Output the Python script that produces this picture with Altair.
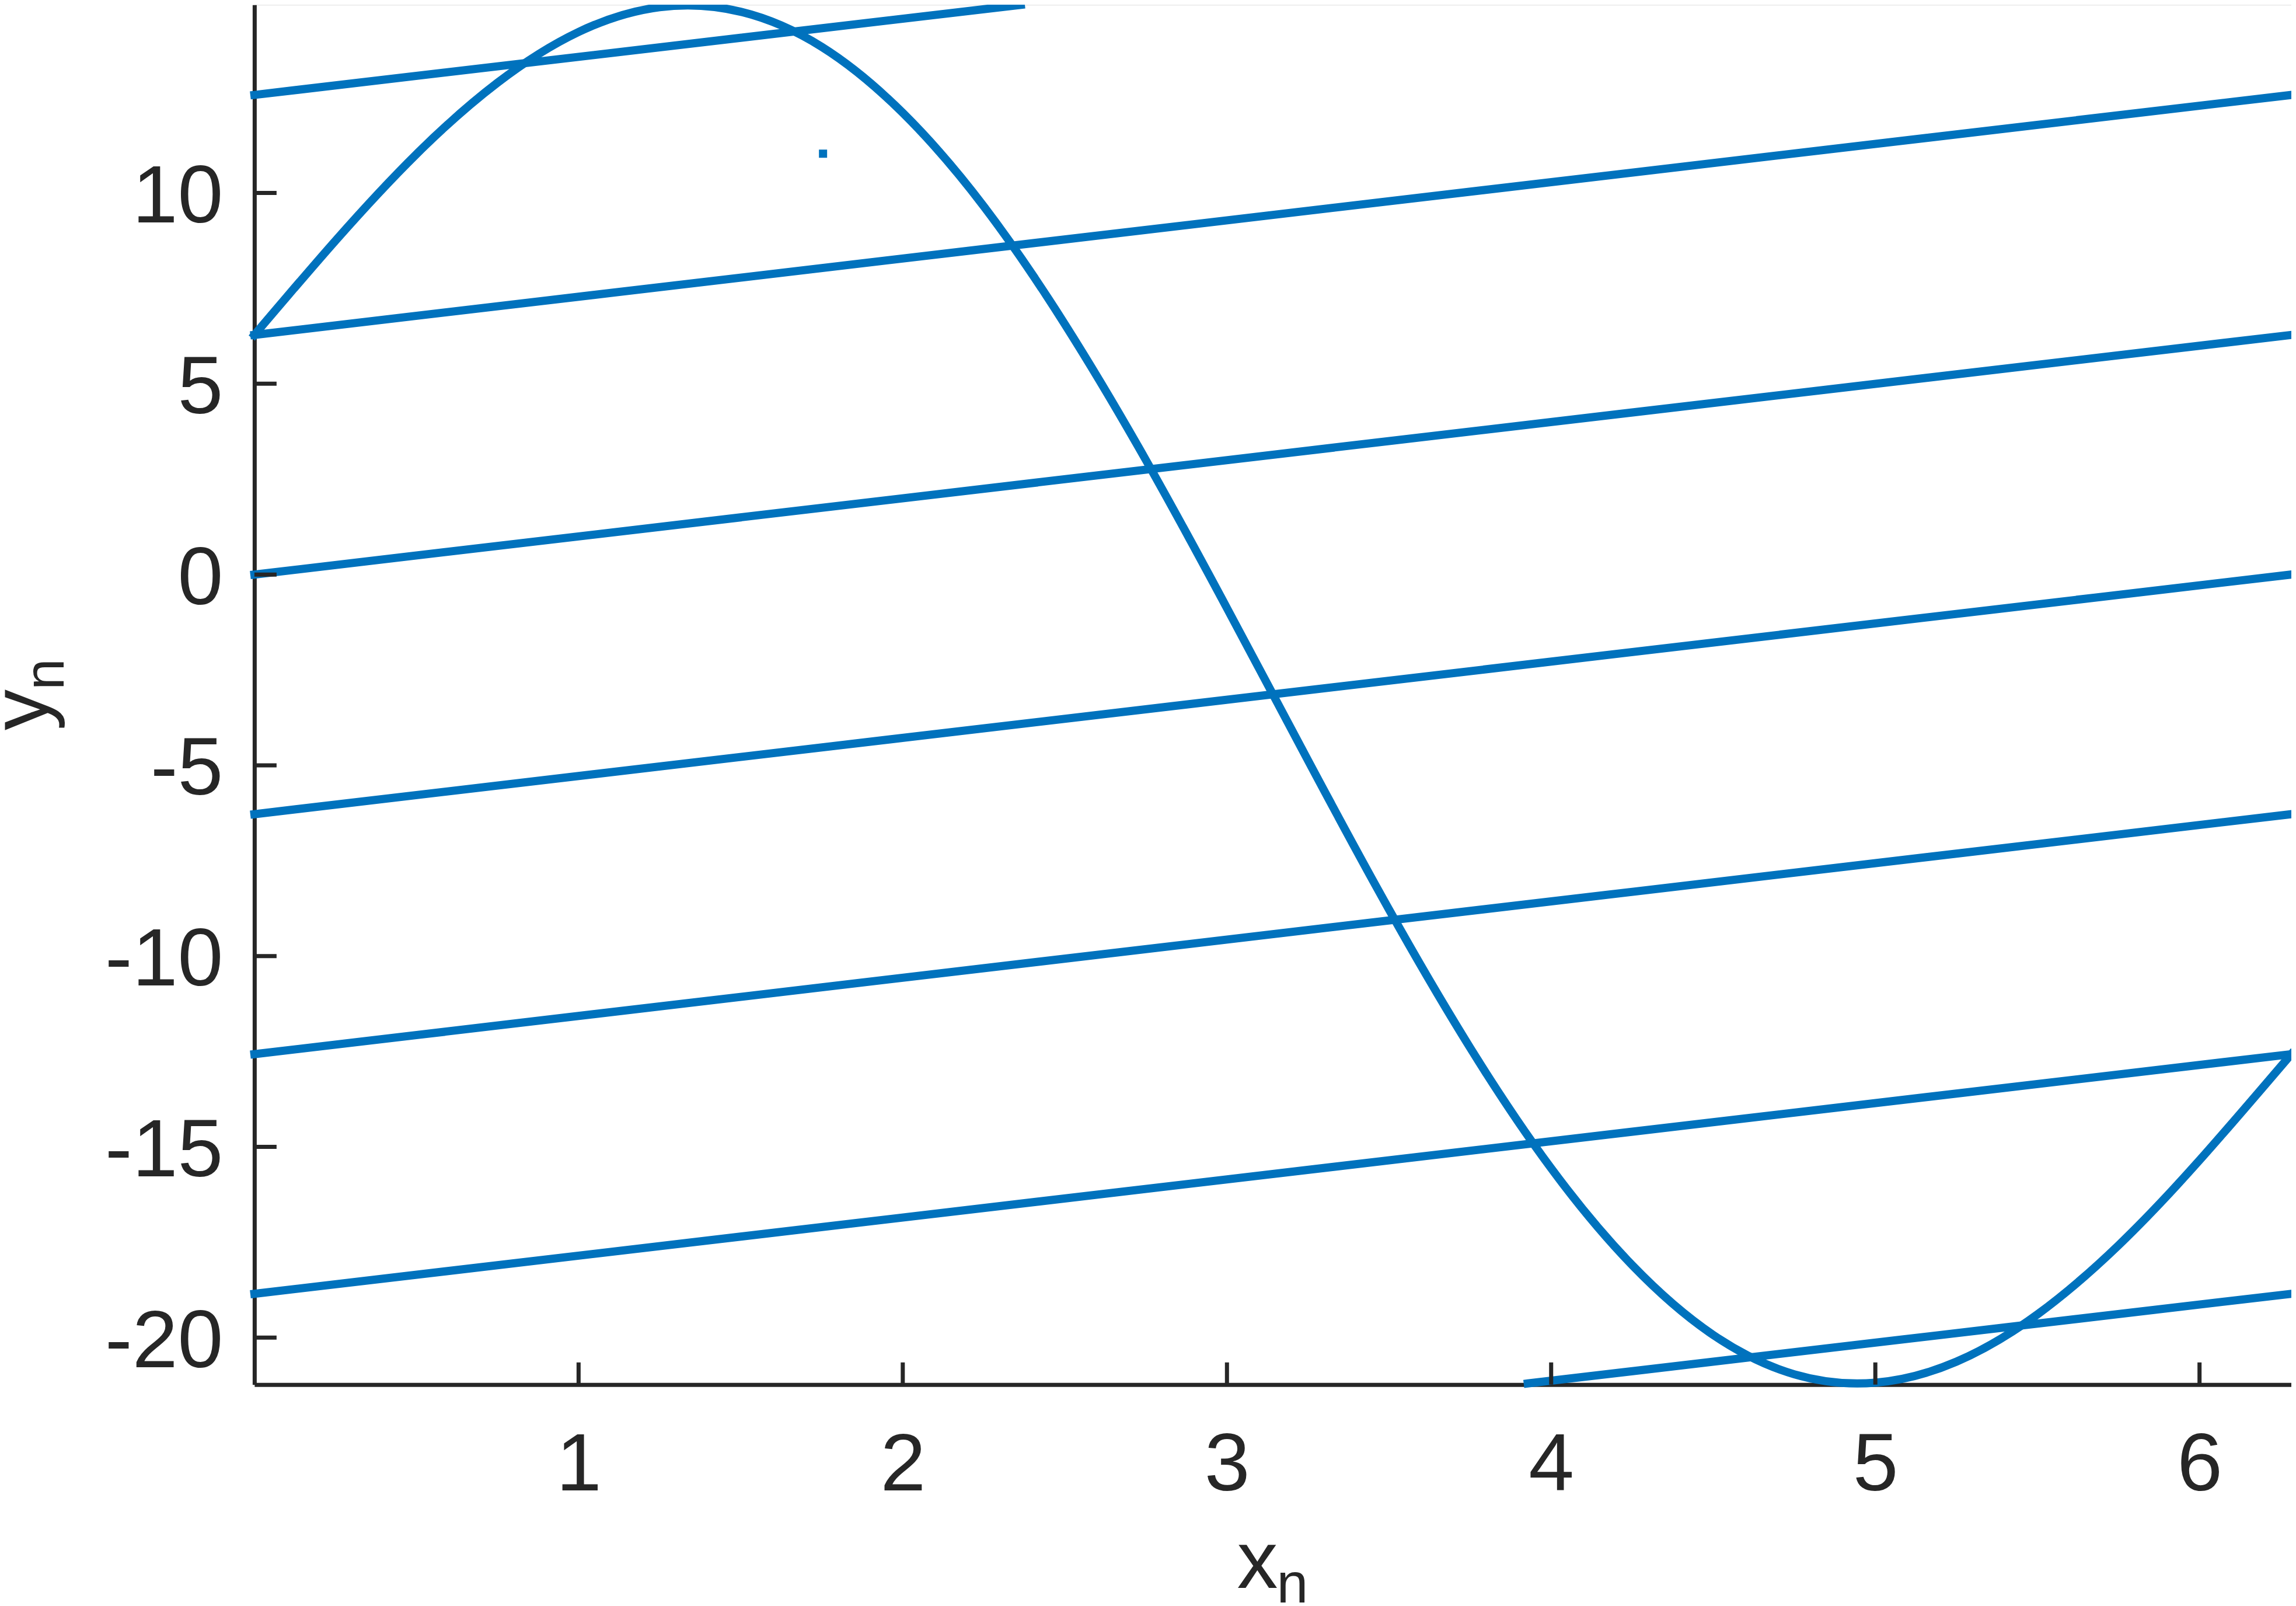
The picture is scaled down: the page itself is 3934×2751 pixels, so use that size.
import altair as alt
import pandas as pd

# ---- data ----
line_x0 = [0.0, 0.0, 0.0, 0.0, 0.0, 0.0, 3.928]
line_y0 = [12.57, 6.28, 0.0, -6.28, -12.57, -18.85, -21.2]
line_x1 = [2.364, 6.283, 6.283, 6.283, 6.283, 6.283, 6.283]
line_y1 = [14.93, 12.57, 6.28, 0.0, -6.28, -12.57, -18.85]

curve_x = [0.0, 0.25, 0.5, 0.75, 1.0, 1.25, 1.5, 1.75, 2.0, 2.25, 2.5, 2.75,
           3.0, 3.25, 3.5, 3.75, 4.0, 4.25, 4.5, 4.75, 5.0, 5.25, 5.5, 5.75, 6.0, 6.283]
curve_y = [6.28, 8.75, 11.02, 12.89, 14.22, 14.87, 14.75, 13.83, 12.10, 9.65, 6.56, 3.00,
           -0.88, -4.87, -8.78, -12.40, -15.56, -18.10, -19.93, -20.96, -21.18, -20.63, -19.39,
           -17.58, -15.35, -12.57]

dot_x = [1.754]
dot_y = [11.03]

x_ticks = [1, 2, 3, 4, 5, 6]
y_ticks = [-20, -15, -10, -5, 0, 5, 10]

x_title = ["x"]
y_title = ["y"]
sub_title = ["n"]

# ---- styling ----
BLUE = "#0072BD"
DARK = "#262626"
FONT = "Liberation Sans"
W, H = 3491, 2364
TICK = 38

xscale = alt.Scale(domain=[0, 6.2832], nice=False, zero=False)
yscale = alt.Scale(domain=[-21.23, 14.93], nice=False, zero=False)

xaxis = alt.Axis(values=x_ticks, labelExpr="'' + datum.value", ticks=False, grid=False,
                 domainColor=DARK, domainWidth=7, labelFont=FONT, labelFontSize=140,
                 labelColor=DARK, labelPadding=70, labelFlush=False, labelLimit=0,
                 labelOverlap=False, title=None)
yaxis = alt.Axis(values=y_ticks, labelExpr="'' + datum.value", ticks=False, grid=False,
                 domainColor=DARK, domainWidth=7, labelFont=FONT, labelFontSize=140,
                 labelColor=DARK, labelPadding=54, labelOffset=8, labelLimit=0,
                 labelOverlap=False, title=None)

X = alt.X("x:Q", scale=xscale, axis=xaxis)
Y = alt.Y("y:Q", scale=yscale, axis=yaxis)

lines_df = pd.DataFrame({"x": line_x0, "y": line_y0, "x2": line_x1, "y2": line_y1})
curve_df = pd.DataFrame({"x": curve_x, "y": curve_y})
dot_df = pd.DataFrame({"x": dot_x, "y": dot_y})
xt_df = pd.DataFrame({"x": x_ticks})
yt_df = pd.DataFrame({"y": y_ticks})

lines = alt.Chart(lines_df).mark_rule(color=BLUE, strokeWidth=14, strokeCap="square").encode(
    x=X, y=Y, x2="x2:Q", y2="y2:Q")

curve = alt.Chart(curve_df).mark_line(color=BLUE, strokeWidth=14, interpolate="natural",
                                      strokeCap="square").encode(x=X, y=Y)

dot = alt.Chart(dot_df).mark_square(color=BLUE, size=196, opacity=1).encode(x=X, y=Y)

xticks = alt.Chart(xt_df).mark_rule(color=DARK, strokeWidth=7).encode(
    x=X, y=alt.value(H), y2=alt.value(H - TICK))
yticks = alt.Chart(yt_df).mark_rule(color=DARK, strokeWidth=7).encode(
    y=Y, x=alt.value(0), x2=alt.value(TICK))

xt = alt.Chart(pd.DataFrame({"t": x_title})).mark_text(
    font=FONT, fontSize=140, color=DARK, align="right", baseline="alphabetic").encode(
    text="t:N", x=alt.value(1754), y=alt.value(2712))
xs = alt.Chart(pd.DataFrame({"t": sub_title})).mark_text(
    font=FONT, fontSize=97, color=DARK, align="left", baseline="alphabetic").encode(
    text="t:N", x=alt.value(1752), y=alt.value(2737))
yt = alt.Chart(pd.DataFrame({"t": y_title})).mark_text(
    font=FONT, fontSize=140, color=DARK, align="left", baseline="alphabetic", angle=270).encode(
    text="t:N", x=alt.value(-354), y=alt.value(1243))
ys = alt.Chart(pd.DataFrame({"t": sub_title})).mark_text(
    font=FONT, fontSize=97, color=DARK, align="left", baseline="alphabetic", angle=270).encode(
    text="t:N", x=alt.value(-327), y=alt.value(1174))

chart = alt.layer(lines, curve, dot, xticks, yticks, xt, xs, yt, ys).properties(
    width=W, height=H,
    autosize=alt.AutoSizeParams(type="none"),
    padding={"left": 428, "top": 0, "right": 0, "bottom": 379},
).configure_view(strokeWidth=0).configure(background="white")

chart.save("out.html", embed_options={"renderer": "svg", "actions": False})
